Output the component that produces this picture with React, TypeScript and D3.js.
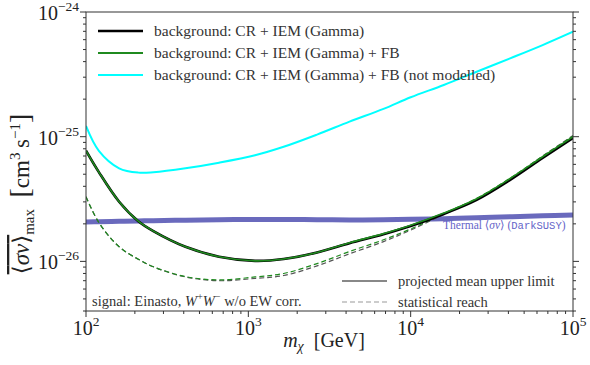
import React from "react";
import * as d3 from "d3";

// WIMP mass grid [GeV]
const massGeV = [100, 120, 160, 210, 260, 410, 660, 1100, 1650, 2650, 4200, 6800, 10000, 16000, 25500, 41000, 65000, 100000];

// <sigma v>_max [cm^3 s^-1]
const bgGamma = [7.73e-26, 5.2e-26, 3.01e-26, 2.1e-26, 1.75e-26, 1.31e-26, 1.09e-26, 1.01e-26, 1.045e-26, 1.18e-26, 1.4e-26, 1.65e-26, 1.92e-26, 2.4e-26, 3.11e-26, 4.5e-26, 6.75e-26, 9.77e-26];
const bgGammaFB = [7.73e-26, 5.2e-26, 3.01e-26, 2.1e-26, 1.75e-26, 1.31e-26, 1.09e-26, 1.01e-26, 1.045e-26, 1.18e-26, 1.41e-26, 1.67e-26, 1.95e-26, 2.44e-26, 3.18e-26, 4.62e-26, 6.9e-26, 1.0e-25];
const bgGammaFBnm = [1.22e-25, 7.7e-26, 5.58e-26, 5.15e-26, 5.19e-26, 5.58e-26, 6.19e-26, 7.1e-26, 8.3e-26, 1.04e-25, 1.32e-25, 1.67e-25, 2.07e-25, 2.6e-25, 3.32e-25, 4.25e-25, 5.43e-25, 6.95e-25];
const statGamma = [3.3e-26, 2.05e-26, 1.31e-26, 1.04e-26, 9.05e-27, 7.5e-27, 7.0e-27, 7.3e-27, 7.7e-27, 9.2e-27, 1.15e-26, 1.44e-26, 1.78e-26, 2.38e-26, 3.15e-26, 4.6e-26, 7.0e-26, 1.02e-25];
const statGammaFB = [3.3e-26, 2.05e-26, 1.31e-26, 1.04e-26, 9.05e-27, 7.55e-27, 7.1e-27, 7.5e-27, 8.0e-27, 9.6e-27, 1.2e-26, 1.49e-26, 1.82e-26, 2.42e-26, 3.2e-26, 4.65e-26, 6.95e-26, 1.01e-25];
const thermal = [2.07e-26, 2.08e-26, 2.1e-26, 2.11e-26, 2.12e-26, 2.14e-26, 2.16e-26, 2.17e-26, 2.17e-26, 2.16e-26, 2.15e-26, 2.16e-26, 2.18e-26, 2.2e-26, 2.24e-26, 2.28e-26, 2.32e-26, 2.36e-26];

const legendLabels = [
  "background: CR + IEM (Gamma)",
  "background: CR + IEM (Gamma) + FB",
  "background: CR + IEM (Gamma) + FB (not modelled)",
];
const xTickExps = [2, 3, 4, 5];
const yTickExps = [-24, -25, -26];

const W = 590;
const H = 365;
const margin = { top: 12, right: 17, bottom: 54, left: 86 };
const font = "Liberation Serif, DejaVu Serif, Tinos, Times New Roman, Times, serif";
const green = "#1f8a1f";

const App = () => {
  const x = d3.scaleLog().domain([1e2, 1e5]).range([margin.left, W - margin.right]);
  const y = d3.scaleLog().domain([4e-27, 1e-24]).range([H - margin.bottom, margin.top]);
  const x0 = margin.left;
  const x1 = W - margin.right;
  const y0 = H - margin.bottom;
  const y1 = margin.top;

  const line = (vals: number[]) =>
    d3
      .line<number>()
      .x((_, i) => x(massGeV[i]))
      .y((d) => y(d))
      .curve(d3.curveCatmullRom.alpha(0.5))(vals) || "";

  // minor ticks
  const xMinor: number[] = [];
  for (let e = 2; e < 5; e++) for (let k = 2; k <= 9; k++) xMinor.push(k * 10 ** e);
  const yMinor: number[] = [];
  for (let e = -27; e < -24; e++)
    for (let k = 2; k <= 9; k++) {
      const v = k * 10 ** e;
      if (v >= 4e-27 && v < 1e-24) yMinor.push(v);
    }

  return (
    <svg
      width={W}
      height={H}
      style={{ position: "absolute", left: 0, top: 0, background: "white", fontFamily: font }}
    >
      <defs>
        <clipPath id="plotClip">
          <rect x={x0} y={y1} width={x1 - x0} height={y0 - y1} />
        </clipPath>
      </defs>

      <g clipPath="url(#plotClip)" fill="none">
        {/* thermal band */}
        <path d={line(thermal)} stroke="#4545ad" strokeOpacity={0.8} strokeWidth={5} />
        {/* statistical reach */}
        <path d={line(statGamma)} stroke="#555" strokeWidth={1.2} strokeDasharray="5,3" />
        <path d={line(statGammaFB)} stroke={green} strokeWidth={1.2} strokeDasharray="5,3" />
        {/* projected limits */}
        <path d={line(bgGammaFBnm)} stroke="#00ffff" strokeWidth={2} />
        <path d={line(bgGamma)} stroke="#000" strokeWidth={2.6} />
        <path d={line(bgGammaFB)} stroke={green} strokeWidth={1.6} />
      </g>

      {/* frame */}
      <rect x={x0} y={y1} width={x1 - x0} height={y0 - y1} fill="none" stroke="#333" strokeWidth={1} />

      {/* x ticks */}
      {xTickExps.map((e) => (
        <g key={`xt${e}`}>
          <line x1={x(10 ** e)} x2={x(10 ** e)} y1={y0} y2={y0 + 6} stroke="#333" />
          <text x={x(10 ** e)} y={y0 + 24} textAnchor="middle" fontSize={20} fill="#222">
            10<tspan dy={-9} fontSize={13.5}>{e}</tspan>
          </text>
        </g>
      ))}
      {xMinor.map((v) => (
        <line key={`xm${v}`} x1={x(v)} x2={x(v)} y1={y0} y2={y0 + 3} stroke="#333" />
      ))}

      {/* y ticks (left and right) */}
      {yTickExps.map((e) => (
        <g key={`yt${e}`}>
          <line x1={x0 - 6} x2={x0} y1={y(10 ** e)} y2={y(10 ** e)} stroke="#333" />
          <line x1={x1} x2={x1 + 6} y1={y(10 ** e)} y2={y(10 ** e)} stroke="#333" />
          <text x={x0 - 7} y={y(10 ** e) + 8} textAnchor="end" fontSize={20} fill="#222">
            10<tspan dy={-9} fontSize={13.5}>{`\u2212${-e}`}</tspan>
          </text>
        </g>
      ))}
      {yMinor.map((v) => (
        <g key={`ym${v}`}>
          <line x1={x0 - 3} x2={x0} y1={y(v)} y2={y(v)} stroke="#333" />
          <line x1={x1} x2={x1 + 3} y1={y(v)} y2={y(v)} stroke="#333" />
        </g>
      ))}

      {/* axis labels */}
      <text x={324} y={H - 18} textAnchor="middle" fontSize={20} fill="#222">
        <tspan fontStyle="italic">m</tspan>
        <tspan dy={4} fontSize={14} fontStyle="italic">χ</tspan>
        <tspan dy={-4}>{"\u2002[GeV]"}</tspan>
      </text>
      <g transform={`translate(29, 194) rotate(-90)`}>
        <text textAnchor="middle" fontSize={23} fill="#222">
          <tspan style={{ textDecoration: "overline" }}>
            {"\u27e8"}
            <tspan fontStyle="italic">σv</tspan>
            {"\u27e9"}
          </tspan>
          <tspan dy={5} fontSize={15}>max</tspan>
          <tspan dy={-5}>{"\u2002"}</tspan>
          <tspan fontSize={28}>[</tspan>
          <tspan>cm</tspan>
          <tspan dy={-9} fontSize={15}>3</tspan>
          <tspan dy={9}>{"\u2009s"}</tspan>
          <tspan dy={-9} fontSize={15}>{"\u22121"}</tspan>
          <tspan dy={9} fontSize={28}>]</tspan>
        </text>
      </g>

      {/* legend: backgrounds */}
      {[
        { color: "#000", w: 2.6 },
        { color: green, w: 2 },
        { color: "#00ffff", w: 2 },
      ].map((s, i) => (
        <g key={`lg${i}`}>
          <line x1={98} x2={143} y1={31 + i * 22} y2={31 + i * 22} stroke={s.color} strokeWidth={s.w} />
          <text x={154} y={36 + i * 22} fontSize={15.5} fill="#333">
            {legendLabels[i]}
          </text>
        </g>
      ))}

      {/* legend: line styles */}
      <line x1={342} x2={387} y1={281} y2={281} stroke="#888" strokeWidth={2} />
      <text x={398} y={286} fontSize={14.5} fill="#333">projected mean upper limit</text>
      <line x1={342} x2={387} y1={302} y2={302} stroke="#999" strokeWidth={1} strokeDasharray="5,3" />
      <text x={398} y={307} fontSize={14.5} fill="#333">statistical reach</text>

      {/* signal note */}
      <text x={92} y={306} fontSize={14.5} fill="#333">
        {"signal: Einasto, "}
        <tspan fontStyle="italic">W</tspan>
        <tspan dy={-6} fontSize={10}>+</tspan>
        <tspan dy={6} fontStyle="italic">W</tspan>
        <tspan dy={-6} fontSize={10}>{"\u2212"}</tspan>
        <tspan dy={6}>{" w/o EW corr."}</tspan>
      </text>

      {/* thermal label */}
      <text x={443} y={229} fontSize={11.5} fill="#6464c8">
        {"Thermal \u27e8"}
        <tspan fontStyle="italic">σv</tspan>
        {"\u27e9 ("}
        <tspan fontFamily="Liberation Mono, DejaVu Sans Mono, monospace" fontSize={10.5}>DarkSUSY</tspan>
        {")"}
      </text>
    </svg>
  );
};

export default App;
